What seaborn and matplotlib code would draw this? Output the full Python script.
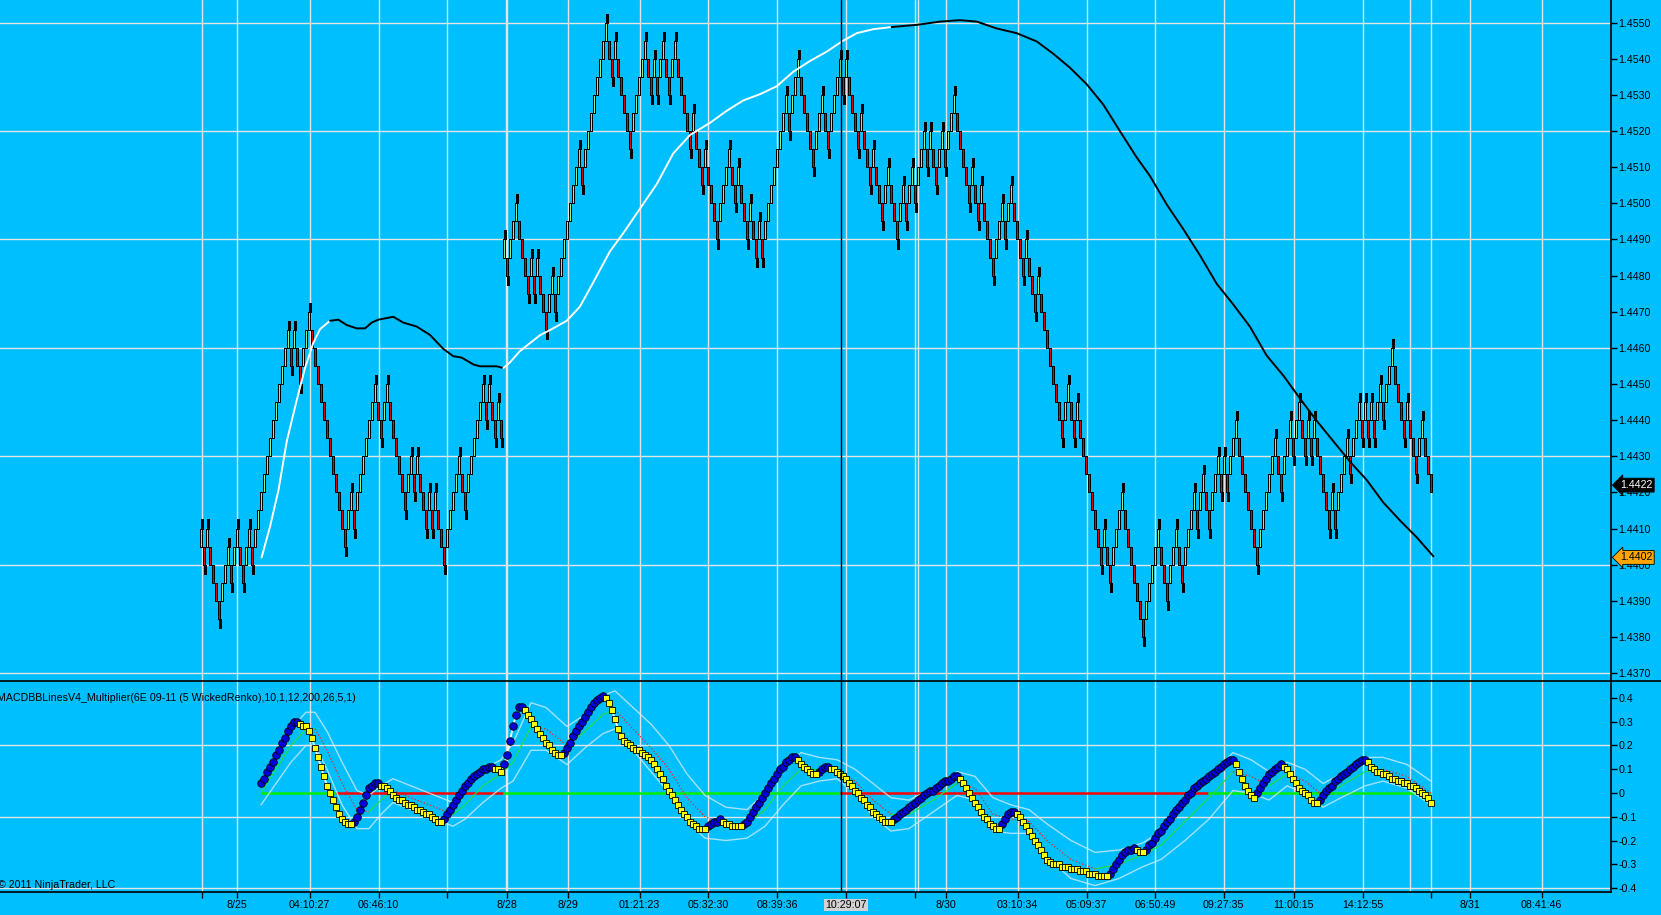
import matplotlib
matplotlib.use("Agg")
import matplotlib.pyplot as plt
from matplotlib.lines import Line2D
import numpy as np
import pandas as pd
import seaborn as sns

# --- renko bricks (6E 09-11, 5 tick bricks) ---
# each value = bottom of the brick, in 0.0005 steps above 1.4370
bricks = ([7, 6, 7, 6, 5, 4, 3, 4, 5, 6, 5, 6, 7, 6, 5, 6, 7, 6, 7]
          + [8, 9, 10, 11, 12, 13, 14, 15, 16, 17, 18]
          + [17, 18, 17, 16, 17, 18, 19, 18, 17]
          + [16, 15, 14, 13, 12, 11, 10, 9, 8, 7]
          + [8, 9, 8, 9, 10, 11, 12, 13, 14, 15]
          + [14, 13, 14, 15, 14, 13, 12, 11]
          + [10, 9, 10, 11, 10, 11, 10, 9, 8, 9, 8, 9, 8, 7, 6]
          + [7, 8, 9, 10, 11, 10, 9, 10, 11, 12, 13, 14, 15]
          + [14, 15, 14, 13, 14, 13]
          + [23, 22, 23, 24, 25]
          + [24, 23, 22, 21, 22, 21, 22, 21, 20, 19, 20, 21, 20, 21, 22, 23, 24]
          + [25, 26, 27, 28, 27, 28, 29, 30, 31, 32, 33, 34, 35]
          + [34, 33, 34, 33, 32, 31, 30, 29, 30, 31, 32, 33, 34]
          + [33, 32, 33, 32, 33, 34, 33, 32, 33, 34, 33, 32]
          + [31, 30, 29, 30, 29, 28, 27, 28, 27, 26, 25, 24]
          + [25, 26, 27, 28]
          + [27, 26, 27, 26, 25, 24, 25, 24, 23, 24, 23]
          + [24, 25, 26, 27, 28, 29, 30, 31, 30, 31, 32, 33]
          + [32, 31, 30, 29, 28]
          + [29, 30, 31, 30, 29, 30, 31, 32, 33]
          + [32, 33, 32, 31, 30, 29, 30, 29, 28, 27, 28, 27, 26, 25, 26, 27, 26, 25, 24]
          + [25, 26, 25, 26, 27, 26, 27, 28, 29, 28, 29, 28, 27, 28, 29, 28, 29, 30, 31]
          + [30, 29, 28, 27, 26, 27, 26, 25, 26, 25, 24, 23, 22]
          + [23, 24, 25, 24, 25, 26]
          + [25, 24, 23, 22, 23, 22, 21, 20, 21, 20, 19, 18, 17, 16, 15, 14, 13]
          + [14, 15]
          + [14, 13, 14, 13, 12, 11, 10, 9, 8, 7, 6, 7, 6, 5]
          + [6, 7, 8, 9]
          + [8, 7, 6, 5, 4, 3, 2]
          + [3, 4, 5, 6, 7]
          + [6, 5, 4, 5, 6, 7, 6, 5, 6, 7, 8, 9, 8, 9, 10, 9, 8, 9, 10, 11, 10, 11, 10, 11, 12, 13]
          + [12, 11, 10, 9, 8, 7, 6]
          + [7, 8, 9, 10, 11, 12]
          + [11, 10, 11, 12, 13, 12, 13, 14]
          + [13, 12, 13, 12, 13, 12, 11, 10, 9, 8]
          + [9, 8, 9, 10, 11, 12, 11, 12, 13, 14, 13, 14, 13, 14, 13, 14, 15, 14, 15, 16, 17]
          + [16, 15, 14, 13, 14, 13, 12, 11, 12, 13, 12, 11, 10])
BASE = 1.4370
STEP = 0.0005
WICK = 0.00025   # typical wick beyond the close on bars that reverse

# slow moving average (bar index, price)
ma_idx = [20.2, 23, 25.8, 28.6, 31.9, 34.7, 37.4, 39.7, 43, 45.8, 48.6, 51.9, 54.7, 56.9,
          59.1, 64.1, 67.4, 71.9, 76.3, 80.8, 84.1, 86.9, 90.8, 93, 98.6, 100.8, 103,
          106.3, 113, 117.4, 121.9, 126.3, 130.8, 136.3, 140.8, 146.3, 151.9, 157.4, 163,
          169.7, 175.2, 180.8, 186.3, 191.9, 197.4, 203, 208.6, 213.6, 218.6, 224.1, 230.2,
          238.6, 246.3, 253, 258.6, 265.2, 271.9, 278.6, 284.1, 289.7, 295.2, 300.8, 306.3,
          311.9, 316.3, 321.9, 327.4, 333, 338.6, 344.1, 349.7, 355.2, 360.8, 366.3, 371.9,
          377.4, 383, 388.6, 394.1, 399.7, 405.2, 410.8]
ma_val = [1.44020, 1.44105, 1.44205, 1.44342, 1.44455, 1.44545, 1.44613, 1.44652, 1.44675,
          1.44678, 1.44663, 1.44654, 1.44654, 1.44670, 1.44678, 1.44686, 1.44670, 1.44659,
          1.44636, 1.44597, 1.44577, 1.44573, 1.44554, 1.44549, 1.44549, 1.44544, 1.44560,
          1.44591, 1.44635, 1.44654, 1.44675, 1.44714, 1.44782, 1.44867, 1.44918, 1.44985,
          1.45053, 1.45138, 1.45189, 1.45223, 1.45256, 1.45285, 1.45302, 1.45324, 1.45364,
          1.45394, 1.45420, 1.45448, 1.45471, 1.45482, 1.45488, 1.45494, 1.45503, 1.45507,
          1.45503, 1.45484, 1.45471, 1.45448, 1.45414, 1.45375, 1.45330, 1.45273, 1.45200,
          1.45127, 1.45076, 1.44997, 1.44929, 1.44856, 1.44777, 1.44720, 1.44658, 1.44579,
          1.44523, 1.44460, 1.44398, 1.44342, 1.44285, 1.44234, 1.44172, 1.44122, 1.44076,
          1.44023]
ma_white = [(20, 42), (101, 230)]

# MACD panel
macd = ([0.04, 0.06, 0.09, 0.11, 0.13, 0.16, 0.18, 0.21, 0.23, 0.26, 0.28, 0.30]
        + [0.30, 0.29, 0.28, 0.28, 0.26]
        + [0.23, 0.19, 0.15, 0.11, 0.07, 0.03, 0.00, -0.03, -0.06, -0.09, -0.11, -0.12, -0.13, -0.13, -0.12]
        + [-0.10, -0.07, -0.04, -0.01, 0.02, 0.03, 0.04, 0.04, 0.03]
        + [0.03, 0.02, 0.01, -0.01, -0.02, -0.03, -0.03, -0.04, -0.05, -0.05, -0.06, -0.07, -0.07,
           -0.08, -0.09, -0.09, -0.10, -0.11, -0.12, -0.12, -0.11]
        + [-0.09, -0.07, -0.05, -0.03, -0.01, 0.01, 0.03, 0.04, 0.06, 0.07, 0.08, 0.09, 0.10, 0.10,
           0.11, 0.11, 0.10, 0.10, 0.09]
        + [0.12, 0.16, 0.22, 0.28, 0.33, 0.36, 0.36, 0.35, 0.33]
        + [0.31, 0.29, 0.27, 0.25, 0.23, 0.21, 0.20, 0.18, 0.17, 0.16, 0.16, 0.17]
        + [0.19, 0.21, 0.24, 0.26, 0.28, 0.30, 0.32, 0.34, 0.36, 0.38, 0.39, 0.40, 0.41]
        + [0.40, 0.38, 0.35, 0.31, 0.27, 0.24, 0.22, 0.21]
        + [0.20, 0.19, 0.18, 0.18, 0.17, 0.16, 0.15, 0.14]
        + [0.12, 0.10, 0.08, 0.06, 0.03, 0.01, -0.01, -0.03, -0.05, -0.07, -0.09, -0.10, -0.12,
           -0.13, -0.14, -0.15, -0.15, -0.15, -0.14, -0.13]
        + [-0.12, -0.12, -0.11, -0.12, -0.13, -0.13, -0.14, -0.14, -0.14, -0.14, -0.13, -0.12, -0.10, -0.08]
        + [-0.06, -0.04, -0.02, 0.00, 0.02, 0.04, 0.06, 0.08, 0.10, 0.11, 0.13, 0.14, 0.15, 0.15]
        + [0.14, 0.12, 0.11, 0.10, 0.09, 0.08, 0.08, 0.09, 0.10, 0.11, 0.11, 0.10, 0.10, 0.09]
        + [0.08, 0.07, 0.06, 0.04, 0.03, 0.01, 0.00, -0.02, -0.03, -0.05, -0.06, -0.08, -0.09,
           -0.10, -0.11, -0.12, -0.12, -0.12, -0.11]
        + [-0.10, -0.09, -0.08, -0.07, -0.06, -0.05, -0.04, -0.03, -0.02, -0.01, 0.00, 0.01, 0.01,
           0.02, 0.03, 0.04, 0.05, 0.05, 0.06, 0.07, 0.07]
        + [0.06, 0.04, 0.02, 0.00, -0.02, -0.04, -0.06, -0.08, -0.10, -0.11, -0.13, -0.14, -0.15, -0.15]
        + [-0.13, -0.11, -0.09, -0.08, -0.08, -0.09]
        + [-0.10, -0.12, -0.14, -0.16, -0.18, -0.20, -0.22, -0.24, -0.26, -0.28, -0.29, -0.30, -0.30,
           -0.30, -0.31, -0.31, -0.31, -0.32, -0.32, -0.32, -0.33, -0.33, -0.33, -0.34, -0.34, -0.34,
           -0.35, -0.35, -0.35, -0.35, -0.34]
        + [-0.32, -0.30, -0.28, -0.26, -0.25, -0.24, -0.24, -0.23, -0.24]
        + [-0.25, -0.25, -0.24, -0.22]
        + [-0.21, -0.19, -0.17, -0.16, -0.14, -0.12, -0.11, -0.09, -0.07, -0.06, -0.04, -0.03, -0.01,
           0.00, 0.02, 0.03, 0.04, 0.05, 0.06, 0.07, 0.08, 0.09, 0.10, 0.11, 0.12, 0.13, 0.14, 0.14]
        + [0.12, 0.09, 0.06, 0.03, 0.01, -0.01, -0.02]
        + [0.00, 0.02, 0.04, 0.06, 0.08, 0.09, 0.10, 0.11, 0.12]
        + [0.11, 0.10, 0.08, 0.06, 0.04, 0.02, 0.01, 0.00, -0.01, -0.03, -0.04, -0.04]
        + [-0.03, -0.01, 0.01, 0.02, 0.03, 0.05, 0.06, 0.07, 0.08, 0.09, 0.10, 0.11, 0.12, 0.13, 0.14, 0.14]
        + [0.13, 0.11, 0.10, 0.09, 0.09, 0.08, 0.08, 0.07, 0.06, 0.06, 0.05, 0.05, 0.04, 0.04, 0.03,
           0.03, 0.02, 0.01, 0.00, -0.01, -0.02, -0.04])

sig_idx = [20, 25, 30, 35, 38, 42, 47, 52, 56, 60, 64, 70, 78, 84, 88, 94, 100, 104, 110, 115,
           122, 128, 134, 138, 144, 150, 156, 162, 168, 175, 182, 188, 194, 200, 206, 212, 218,
           224, 230, 236, 244, 252, 258, 264, 270, 276, 282, 290, 298, 306, 314, 320, 328, 336,
           344, 350, 356, 362, 368, 374, 380, 388, 394, 402, 410]
sig_val = [0.00, 0.10, 0.20, 0.27, 0.27, 0.18, 0.04, -0.07, -0.08, -0.03, 0.01, -0.02, -0.06,
           -0.09, -0.05, 0.03, 0.08, 0.13, 0.28, 0.27, 0.20, 0.26, 0.33, 0.35, 0.27, 0.19, 0.10,
           -0.02, -0.10, -0.13, -0.13, -0.07, 0.03, 0.10, 0.10, 0.10, 0.05, -0.03, -0.09, -0.09,
           -0.03, 0.04, 0.02, -0.09, -0.11, -0.12, -0.20, -0.28, -0.32, -0.30, -0.26, -0.22,
           -0.12, -0.02, 0.09, 0.07, 0.03, 0.08, 0.05, -0.01, 0.03, 0.09, 0.10, 0.07, 0.00]
band_w = [0.05, 0.06, 0.07, 0.07, 0.07, 0.08, 0.09, 0.08, 0.07, 0.06, 0.05, 0.05, 0.05, 0.05,
          0.06, 0.07, 0.06, 0.08, 0.10, 0.09, 0.08, 0.07, 0.08, 0.08, 0.09, 0.10, 0.10, 0.10,
          0.09, 0.07, 0.06, 0.07, 0.08, 0.07, 0.05, 0.04, 0.05, 0.07, 0.07, 0.06, 0.05, 0.05,
          0.05, 0.07, 0.06, 0.05, 0.07, 0.08, 0.07, 0.06, 0.05, 0.06, 0.08, 0.09, 0.08, 0.07,
          0.06, 0.05, 0.05, 0.05, 0.05, 0.06, 0.05, 0.05, 0.05]
zero_red = [(45, 100.5), (213, 335.5)]

# time axis
tick_pos = [0.2, 11.9, 36.2, 59.2, 82.1, 102.1, 122.2, 146.2, 169.1, 192.1, 215, 238.1, 248.2,
            272.2, 295.2, 318, 340.9, 364.2, 387.2, 410, 423.1, 446.9]
tick_lab = ['', '8/25', '04:10:27', '06:46:10', '', '8/28', '8/29', '01:21:23', '05:32:30',
            '08:39:36', '10:29:07', '', '8/30', '03:10:34', '05:09:37', '06:50:49', '09:27:35',
            '11:00:15', '14:12:55', '', '8/31', '08:41:46']
extra_v = [101.5, 239.1, 403.1]
cursor_bar = 213.2
last_price = 1.4422
ma_last = 1.4402

BG = '#00BFFF'
GRID = '#E4E4E4'
FS = 7.7

sns.set_style("ticks", {"axes.facecolor": BG, "figure.facecolor": BG})
plt.rcParams['font.family'] = ['Liberation Sans', 'DejaVu Sans']

W, H = 1661, 915
fig = plt.figure(figsize=(W / 100, H / 100), dpi=100)
sep = 1 - 680.7 / H
ax1 = fig.add_axes([0, sep, 1610.7 / W, 1 - sep])
ax2 = fig.add_axes([0, 1 - 892 / H, 1610.7 / W, sep - (1 - 892 / H)])

XL = (-67, 469.9)


def runs(flags):
    # contiguous stretches of equal flags -> (first, last+1, flag)
    out, s = [], 0
    for k in range(1, len(flags) + 1):
        if k == len(flags) or flags[k] != flags[s]:
            out.append((s, k, flags[s]))
            s = k
    return out


# ---------- price panel ----------
df = pd.DataFrame({'bar': np.arange(len(bricks)), 'brick': bricks})
df['low'] = BASE + STEP * df['brick']
df['up'] = df['brick'].diff().fillna(1) > 0
df['turn'] = df['up'] != df['up'].shift(-1).fillna(df['up'].iloc[-1])

for y in np.arange(1.4370, 1.45505, 0.003):
    ax1.axhline(y, color=GRID, lw=1, zorder=0.5)
for x in tick_pos + extra_v:
    ax1.axvline(x, color=GRID, lw=1, zorder=0.5)
    ax2.axvline(x, color=GRID, lw=1, zorder=0.5)

# wicks: bars that reverse show the overshoot past their close
tw = df[df['turn']]
y0 = np.where(tw['up'], tw['low'] + STEP, tw['low'])
y1 = np.where(tw['up'], y0 + WICK, y0 - WICK)
ax1.vlines(tw['bar'] + 0.3, y0, y1, color='black', lw=0.9, zorder=2.8, antialiased=False)

ax1.bar(df['bar'], STEP, bottom=df['low'], width=0.95,
        color=np.where(df['up'], '#90EE90', '#EE0000'),
        edgecolor='black', linewidth=0.6, zorder=3, antialiased=False)

ma = pd.DataFrame({'bar': ma_idx, 'ma': ma_val})
mid = (ma['bar'].values[:-1] + ma['bar'].values[1:]) / 2
white = [any(a <= m < b for a, b in ma_white) for m in mid]
for s, e, w in runs(white):
    seg = ma.iloc[s:e + 1]
    sns.lineplot(data=seg, x='bar', y='ma', ax=ax1, color='white' if w else 'black',
                 lw=1.4, estimator=None, sort=False, zorder=4)

ax1.axvline(cursor_bar, color='black', lw=1, zorder=6)
ax1.set_xlim(*XL)
ax1.set_ylim(1.436788, 1.455628)
ax1.yaxis.tick_right()
ax1.set_yticks(np.arange(1.4370, 1.45505, 0.001))
ax1.yaxis.set_major_formatter(matplotlib.ticker.FormatStrFormatter('%.4f'))
ax1.tick_params(axis='y', direction='out', length=4.3, width=1, pad=1.2,
                labelsize=FS, colors='black')
ax1.tick_params(axis='x', bottom=False, labelbottom=False)
ax1.set_xlabel('')
ax1.set_ylabel('')
for sp in ['left', 'top', 'bottom']:
    ax1.spines[sp].set_visible(False)
ax1.spines['right'].set_linewidth(1.2)
ax1.spines['right'].set_color('black')

# price flags on the right scale
trans1 = matplotlib.transforms.blended_transform_factory(ax1.transAxes, ax1.transData)
ax1.text(1.0057, last_price, f'{last_price:.4f}', transform=trans1, va='center', ha='left',
         fontsize=FS, color='white', zorder=10, clip_on=False,
         bbox=dict(boxstyle='larrow,pad=0.18', fc='black', ec='black', lw=0.6))
ax1.text(1.0057, ma_last, f'{ma_last:.4f}', transform=trans1, va='center', ha='left',
         fontsize=FS, color='black', zorder=10, clip_on=False,
         bbox=dict(boxstyle='larrow,pad=0.18', fc='#FFA500', ec='black', lw=0.6))

# ---------- MACD panel ----------
start = len(bricks) - len(macd)
md = pd.DataFrame({'bar': np.arange(start, len(bricks)), 'macd': macd})
slope = np.sign(md['macd'].diff()).replace(0, np.nan).ffill().fillna(1)
md['rising'] = slope > 0

for y in [0.2, -0.1, -0.4]:
    ax2.axhline(y, color=GRID, lw=1, zorder=0.5)

bounds = [start] + [v for ab in zero_red for v in ab] + [len(bricks) - 1]
for k in range(len(bounds) - 1):
    ax2.hlines(0, bounds[k], bounds[k + 1], color='#FF0000' if k % 2 else '#00EE00',
               lw=1.8, zorder=2)

sg = pd.DataFrame({'bar': sig_idx, 'sig': sig_val, 'w': band_w})
sg['upper'] = sg['sig'] + sg['w']
sg['lower'] = sg['sig'] - sg['w']
for col in ['upper', 'lower']:
    sns.lineplot(data=sg, x='bar', y=col, ax=ax2, color='#DDEEFF', lw=1.0, alpha=0.75,
                 estimator=None, sort=False, zorder=2)
up_sig = list(np.diff(sg['sig'].values) >= 0)
for s, e, u in runs(up_sig):
    seg = sg.iloc[s:e + 1]
    sns.lineplot(data=seg, x='bar', y='sig', ax=ax2, color='#22DD44' if u else '#EE2222',
                 lw=0.9, linestyle='-' if u else ':', estimator=None, sort=False, zorder=2.5)

sns.lineplot(data=md, x='bar', y='macd', ax=ax2, color='white', lw=1.3,
             estimator=None, sort=False, zorder=3)
sns.scatterplot(data=md[md['rising']], x='bar', y='macd', ax=ax2, marker='o', s=30,
                color='#0000DD', edgecolor='black', linewidth=0.6, zorder=5, legend=False)
sns.scatterplot(data=md[~md['rising']], x='bar', y='macd', ax=ax2, marker='s', s=24,
                color='#FFFF00', edgecolor='black', linewidth=0.6, zorder=5, legend=False)

ax2.axvline(cursor_bar, color='black', lw=1, zorder=6)
ax2.set_xlim(*XL)
ax2.set_ylim(-0.4168, 0.4728)
ax2.yaxis.tick_right()
mt = [0.4, 0.3, 0.2, 0.1, 0.0, -0.1, -0.2, -0.3, -0.4]
ax2.set_yticks(mt)
ax2.set_yticklabels(['0' if v == 0 else f'{v:.1f}' for v in mt])
ax2.tick_params(axis='y', direction='out', length=4.3, width=1, pad=1.2,
                labelsize=FS, colors='black')
ax2.set_xticks(tick_pos)
ax2.set_xticklabels(tick_lab)
ax2.tick_params(axis='x', direction='out', length=4.3, width=1, pad=1.5,
                labelsize=FS, colors='black')
for lab in ax2.get_xticklabels():
    if lab.get_text() == '10:29:07':
        lab.set_bbox(dict(boxstyle='square,pad=0.12', fc='#D2D2D2', ec='none'))
ax2.set_xlabel('')
ax2.set_ylabel('')
for sp in ['left', 'top']:
    ax2.spines[sp].set_visible(False)
for sp in ['right', 'bottom']:
    ax2.spines[sp].set_linewidth(1.2)
    ax2.spines[sp].set_color('black')

fig.add_artist(Line2D([0, 1], [sep, sep], color='black', lw=1.2))
fig.text(-3 / W, 1 - 698 / H,
         'MACDBBLinesV4_Multiplier(6E 09-11 (5 WickedRenko),10,1,12,200,26,5,1)',
         fontsize=FS, va='center', ha='left', color='black')
fig.text(-2 / W, 1 - 885 / H, '\u00a9 2011 NinjaTrader, LLC',
         fontsize=FS, va='center', ha='left', color='black')

fig.savefig('out.png', dpi=100, facecolor=BG)
